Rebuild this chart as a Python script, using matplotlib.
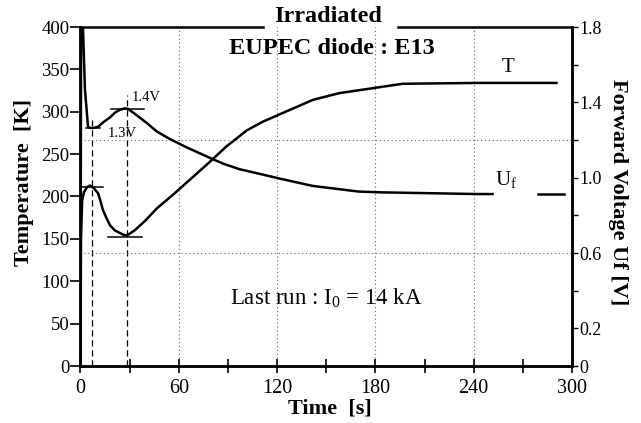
import matplotlib
matplotlib.use("Agg")
import matplotlib.pyplot as plt

plt.rcParams['font.family'] = ['Liberation Serif', 'DejaVu Serif']
plt.rcParams['mathtext.fontset'] = 'custom'
plt.rcParams['mathtext.rm'] = 'Liberation Serif'
plt.rcParams['mathtext.it'] = 'Liberation Serif:italic'
plt.rcParams['mathtext.bf'] = 'Liberation Serif:bold'

# ---- data ----
t_T = [0, 0.3, 1.0, 2.1, 4.0, 5.8, 8.0, 10.7, 12.0, 13.7, 15.5, 18, 21, 24, 26,
       28.4, 33, 39.3, 46.6, 56.4, 68.6, 79, 89, 101.5, 111, 121.6, 141.8, 158,
       182.6, 196.6, 242, 290.5]
T_vals = [0, 150, 195, 205, 211, 213, 210, 204, 196, 184, 176, 166, 160, 157, 155,
          154, 160, 171, 186, 202, 223, 241, 259, 278, 288, 297, 314, 322,
          329, 333, 334, 334]

t_U = [0, 0.5, 1.5, 2.7, 4.6, 5.8, 8.0, 10.7, 14, 18, 21, 24, 27, 29, 33, 40.5,
       46.6, 54.6, 65, 79, 86.9, 97, 109.5, 121.6, 141.8, 170, 184, 242, 251.5]
U_vals = [0, 2.6, 1.8, 1.47, 1.27, 1.264, 1.264, 1.27, 1.295, 1.32, 1.345, 1.36,
          1.368, 1.365, 1.34, 1.29, 1.245, 1.205, 1.16, 1.105, 1.075, 1.045, 1.02,
          0.995, 0.956, 0.926, 0.922, 0.913, 0.913]

uf_key_t = [279, 295]
uf_key_v = [0.913, 0.913]

# marker levels
t_marks = [7.0, 28.5]          # dashed vertical lines (s)
T_peak, T_min = 211, 152       # K
U_peak, U_dip = 1.365, 1.264   # V

x_major = [0, 60, 120, 180, 240, 300]
x_minor = [30, 90, 150, 210, 270]
y_left = [0, 50, 100, 150, 200, 250, 300, 350, 400]
y_right_lab = [0, 0.2, 0.6, 1.0, 1.4, 1.8]
y_right_min = [0.4, 0.8, 1.2, 1.6]

W, H = 641, 423
fig = plt.figure(figsize=(W / 100, H / 100), dpi=100)
L, R, B, Tp = 80.5, 572, 366, 27
ax = fig.add_axes([L / W, 1 - B / H, (R - L) / W, (B - Tp) / H])
ax2 = ax.twinx()

ax.set_xlim(0, 300)
ax.set_ylim(0, 400)
ax2.set_ylim(0, 1.8)

# grid (dotted, faint)
for g in [60, 120, 180, 240]:
    ax.axvline(g, color='#666666', lw=0.8, ls=(0, (1, 2.5)), zorder=0)
for g in [0.6, 1.2]:
    ax2.axhline(g, color='#666666', lw=0.8, ls=(0, (1, 2.5)), zorder=0)

# curves
ax.plot(t_T, T_vals, color='black', lw=1.8)
ax2.plot(t_U, U_vals, color='black', lw=1.8)
ax2.plot(uf_key_t, uf_key_v, color='black', lw=1.8)

# dashed verticals
ax.plot([t_marks[0], t_marks[0]], [0, 290], color='black', lw=0.9, ls=(0, (5, 3)))
ax.plot([t_marks[1], t_marks[1]], [0, 320], color='black', lw=0.9, ls=(0, (5, 3)))

# horizontal marker segments
ax.plot([0, 14], [T_peak, T_peak], color='black', lw=1.1)
ax.plot([17, 37.5], [T_min, T_min], color='black', lw=1.1)
ax2.plot([18.6, 38.7], [U_peak, U_peak], color='black', lw=1.1)
ax2.plot([3.4, 12], [U_dip, U_dip], color='black', lw=1.1)

ax2.text(31.4, 1.425, '1.4V', fontsize=10.5, ha='left', va='center')
ax2.text(16.8, 1.237, '1.3V', fontsize=10.5, ha='left', va='center')

ax.text(257, 352, 'T', fontsize=15, ha='left', va='center')
ax2.text(253, 0.99, 'U$_\\mathrm{f}$', fontsize=15, ha='left', va='center')
ax.text(0.5, 0.2, 'Last run : I$_\\mathrm{0}$ = 14 kA', transform=ax.transAxes,
        fontsize=16.5, ha='center', va='center')

# ticks
ax.set_xticks(x_major)
ax.set_xticks(x_minor, minor=True)
ax.set_yticks(y_left)
ax.tick_params(axis='x', which='both', direction='inout', length=10, width=1.2,
               labelsize=14.5, pad=4)
ax.tick_params(axis='y', direction='out', length=7, width=1.2, labelsize=13.5, pad=1)
ax2.set_yticks(y_right_lab)
ax2.set_yticks(y_right_min, minor=True)
ax2.set_yticklabels(['0', '0.2', '0.6', '1.0', '1.4', '1.8'])
ax2.tick_params(axis='y', which='both', direction='out', length=4, width=1.0,
                labelsize=13, pad=1)

for a in (ax, ax2):
    for s in a.spines.values():
        s.set_linewidth(1.8)
    a.spines['top'].set_visible(False)

# broken top frame around title
ax.plot([0, (263 - L) / (R - L)], [1, 1], transform=ax.transAxes, color='black',
        lw=1.8, clip_on=False)
ax.plot([(398 - L) / (R - L), 1], [1, 1], transform=ax.transAxes, color='black',
        lw=1.8, clip_on=False)

fig.text(328 / W, 1 - 16 / H, 'Irradiated', fontsize=17.5, fontweight='bold',
         ha='center', va='center')
fig.text(332 / W, 1 - 48 / H, 'EUPEC diode : E13', fontsize=17.5, fontweight='bold',
         ha='center', va='center')
fig.text(24 / W, 1 - 182 / H, 'Temperature  [K]', fontsize=16, fontweight='bold',
         ha='center', va='center', rotation=90)
fig.text(618 / W, 1 - 192 / H, 'Forward Voltage Uf [V]', fontsize=16,
         fontweight='bold', ha='center', va='center', rotation=-90)
fig.text(330 / W, 1 - 408 / H, 'Time  [s]', fontsize=16, fontweight='bold',
         ha='center', va='center')

fig.savefig('out.png', dpi=100)
